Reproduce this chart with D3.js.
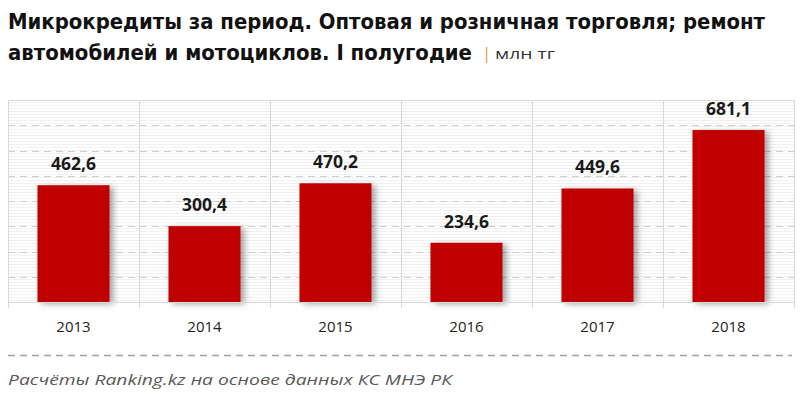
<!DOCTYPE html>
<html lang="ru">
<head>
<meta charset="UTF-8">
<script src="https://d3js.org/d3.v7.min.js"></script>
<style>
  body { margin: 0; background: #fff; }
  svg { display: block; }
</style>
</head>
<body>
<div id="chart"></div>
<script>
// data
var years = ["2013", "2014", "2015", "2016", "2017", "2018"];
var values = [462.6, 300.4, 470.2, 234.6, 449.6, 681.1];
var yTicks = [0, 100, 200, 300, 400, 500, 600, 700, 800];

var width = 800, height = 396;
var plotLeft = 8, plotRight = 794, plotTop = 100, plotBottom = 302;

var svg = d3.select("#chart").append("svg")
    .attr("width", width)
    .attr("height", height);

var defs = svg.append("defs");
// faint horizontal stripes in plot background
var pat = defs.append("pattern")
    .attr("id", "stripes")
    .attr("width", 4).attr("height", 3)
    .attr("patternUnits", "userSpaceOnUse");
pat.append("rect").attr("width", 4).attr("height", 1).attr("fill", "#f1f1f1");

var shadow = defs.append("filter").attr("id", "shadow")
    .attr("x", "-20%").attr("y", "-20%").attr("width", "150%").attr("height", "150%");
shadow.append("feDropShadow")
    .attr("dx", 4).attr("dy", 2).attr("stdDeviation", 3)
    .attr("flood-color", "#000").attr("flood-opacity", 0.35);

// scales
var x = d3.scaleBand()
    .domain(years)
    .range([plotLeft, plotRight])
    .paddingInner(0.45)
    .paddingOuter(0.225);
var y = d3.scaleLinear()
    .domain([0, 800])
    .range([plotBottom, plotTop]);

// title
var title = svg.append("g")
    .attr("font-family", "'DejaVu Sans Condensed', 'DejaVu Sans', sans-serif")
    .attr("font-weight", "bold")
    .attr("fill", "#111");
title.append("text")
    .attr("x", 8).attr("y", 29)
    .attr("font-size", 21)
    .attr("textLength", 757).attr("lengthAdjust", "spacingAndGlyphs")
    .text("Микрокредиты за период. Оптовая и розничная  торговля; ремонт");
title.append("text")
    .attr("x", 8).attr("y", 60)
    .attr("font-size", 21)
    .attr("textLength", 464).attr("lengthAdjust", "spacingAndGlyphs")
    .text("автомобилей и мотоциклов. I полугодие");
svg.append("text")
    .attr("x", 482).attr("y", 59)
    .attr("font-family", "'Open Sans', sans-serif")
    .attr("font-size", 17)
    .attr("fill", "#e0a040")
    .text("|");
svg.append("text")
    .attr("x", 495).attr("y", 59)
    .attr("font-family", "'Open Sans', sans-serif")
    .attr("font-size", 15)
    .attr("fill", "#333")
    .attr("textLength", 60).attr("lengthAdjust", "spacingAndGlyphs")
    .text("млн тг");

// plot background
svg.append("rect")
    .attr("x", plotLeft).attr("y", plotTop)
    .attr("width", plotRight - plotLeft).attr("height", plotBottom - plotTop)
    .attr("fill", "url(#stripes)");

// dashed gridlines
svg.append("g")
    .selectAll("line")
    .data(yTicks.slice(1, -1))
    .join("line")
    .attr("x1", plotLeft).attr("x2", plotRight)
    .attr("y1", function(d) { return Math.round(y(d)) + 0.5; })
    .attr("y2", function(d) { return Math.round(y(d)) + 0.5; })
    .attr("stroke", "#cfcfcf")
    .attr("stroke-dasharray", "7,5");

// top line
svg.append("line")
    .attr("x1", plotLeft).attr("x2", plotRight)
    .attr("y1", Math.round(y(800)) + 0.5).attr("y2", Math.round(y(800)) + 0.5)
    .attr("stroke", "#d9d9d9");

// vertical category separators
var seps = years.map(function(d) { return x(d) - x.step() * x.paddingInner() / 2; });
seps.push(plotRight);
svg.append("g")
    .selectAll("line")
    .data(seps)
    .join("line")
    .attr("x1", function(d) { return Math.round(d) + 0.5; })
    .attr("x2", function(d) { return Math.round(d) + 0.5; })
    .attr("y1", y(800)).attr("y2", plotBottom + 6)
    .attr("stroke", "#d9d9d9");

// bars
svg.append("g")
    .selectAll("rect")
    .data(values)
    .join("rect")
    .attr("x", function(d, i) { return x(years[i]); })
    .attr("y", function(d) { return y(d); })
    .attr("width", x.bandwidth())
    .attr("height", function(d) { return plotBottom - y(d); })
    .attr("fill", "#c00000")
    .attr("filter", "url(#shadow)");

// baseline
svg.append("line")
    .attr("x1", plotLeft).attr("x2", plotRight)
    .attr("y1", plotBottom + 0.5).attr("y2", plotBottom + 0.5)
    .attr("stroke", "#d9d9d9");

// value labels
svg.append("g")
    .selectAll("text")
    .data(values)
    .join("text")
    .attr("x", function(d, i) { return x(years[i]) + x.bandwidth() / 2; })
    .attr("y", function(d) { return y(d) - 15; })
    .attr("text-anchor", "middle")
    .attr("font-family", "'Open Sans', sans-serif")
    .attr("font-weight", "bold")
    .attr("font-size", 17.5)
    .attr("fill", "#1a1a1a")
    .text(function(d) { return d.toFixed(1).replace(".", ","); });

// year labels
svg.append("g")
    .selectAll("text")
    .data(years)
    .join("text")
    .attr("x", function(d) { return x(d) + x.bandwidth() / 2; })
    .attr("y", 332)
    .attr("text-anchor", "middle")
    .attr("font-family", "'Open Sans', sans-serif")
    .attr("font-size", 15)
    .attr("fill", "#222")
    .text(function(d) { return d; });

// footer
svg.append("line")
    .attr("x1", 8).attr("x2", 792)
    .attr("y1", 355.5).attr("y2", 355.5)
    .attr("stroke", "#a0a0a0")
    .attr("stroke-width", 1.5)
    .attr("stroke-dasharray", "7,5");
svg.append("text")
    .attr("x", 8).attr("y", 385)
    .attr("font-family", "'Open Sans', sans-serif")
    .attr("font-style", "italic")
    .attr("font-size", 15)
    .attr("fill", "#595959")
    .attr("textLength", 444).attr("lengthAdjust", "spacingAndGlyphs")
    .text("Расчёты Ranking.kz на основе данных  КС МНЭ РК");
</script>
</body>
</html>
